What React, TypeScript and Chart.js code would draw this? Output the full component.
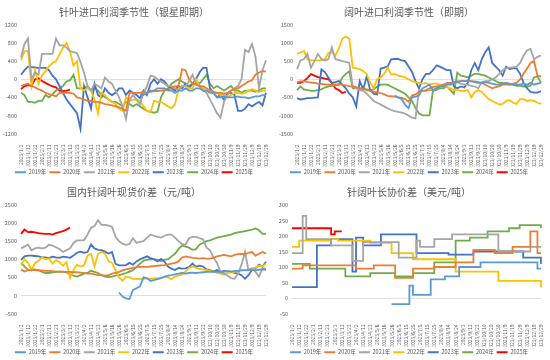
import React, { useEffect, useRef } from "react";
import { Chart, registerables } from "chart.js";

Chart.register(...registerables);

const FONT = '"Noto Sans CJK SC", "Noto Sans", sans-serif';
const TEXT = "#595959";

// x-axis tick labels (one every second category)
const xLabels = [
  "2023/1/2", "2023/1/12", "2023/1/22", "2023/2/1", "2023/2/11", "2023/2/21",
  "2023/3/3", "2023/3/13", "2023/3/23", "2023/4/2", "2023/4/13", "2023/4/23",
  "2023/5/6", "2023/5/16", "2023/5/26", "2023/6/5", "2023/6/15", "2023/6/25",
  "2023/7/5", "2023/7/15", "2023/7/25", "2023/8/4", "2023/8/14", "2023/8/24",
  "2023/9/3", "2023/9/13", "2023/9/23", "2023/10/10", "2023/10/20", "2023/10/30",
  "2023/11/9", "2023/11/19", "2023/11/29", "2023/12/9", "2023/12/19", "2023/12/29",
];

const seriesNames = ["2019年", "2020年", "2021年", "2022年", "2023年", "2024年", "2025年"];
const seriesColors = ["#5B9BD5", "#ED7D31", "#A5A5A5", "#FFC000", "#4472C4", "#70AD47", "#FF0000"];

// ---------- Chart 1: 针叶进口利润季节性（银星即期）
const c1Title = "针叶进口利润季节性（银星即期）";
const c1Ticks = [-1200, 1200, 400];
const c1Start2019 = 34;
const c1_2019 = [-350, -350, -300, -250, -250, -200, -200, -200, -250, -250, -300, -250, -250, -200, -250, -250, -200, -200, -250, -250, -300, -300, -400, -400, -380, -400, -400, -400, -380, -400, -400, -420, -400, -380, -380, -350, -350];
const c1_2020 = [-150, -120, -100, -150, -180, -220, -250, -300, -330, -350, -380, -300, -300, -300, -300, -320, -400, -420, -450, -480, -480, -500, -500, -520, -550, -560, -580, -600, -620, -650, -700, -300, -300, -300, -300, -280, -300, -280, -260, -260, -250, -240, -230, -200, -150, -150, 220, 200, 0, -100, -120, -150, -150, -200, -250, -280, -300, -300, -320, -300, -250, -220, -200, -150, -100, -50, -20, 100, 150, 180, 170];
const c1_2021 = [480, 780, 900, 0, 150, 100, 560, 560, 560, 560, 900, 750, 750, 700, 620, 600, 580, 380, 150, -150, -250, -100, -150, -200, 40, -50, -100, -250, -400, -600, -880, -450, -350, -450, -550, -300, -150, 80, 60, 0, -50, -100, -150, -150, -200, -250, -150, -150, -50, 100, -100, -150, -250, -300, -450, -600, -750, -850, -500, -350, -250, -200, -150, 0, 650, 600, 780, 500, -200, 200, 420];
const c1_2022 = [420, 620, 620, -150, 200, -100, 80, 180, 290, 360, 400, 550, 700, 800, 620, 300, 400, -200, -250, -200, -250, -450, -750, -300, -350, -450, -500, -550, -650, -700, -400, -480, -450, -450, -480, -600, -700, -730, -480, -500, -500, -550, -600, -640, -550, -220, -150, -150, -200, -200, 0, -150, -200, -250, -250, -300, -300, -350, -350, -400, -350, -300, -300, -320, -300, -250, -220, -250, -280, -250, -250];
const c1_2023 = [100, 200, 280, 270, 260, 250, 250, 250, 200, 80, 0, -150, -300, -450, -550, -650, -750, -1100, -150, -400, -650, -100, -350, -400, -200, -300, -350, -300, -200, -200, -350, -250, -300, -350, -420, -250, -350, -100, 0, -100, 0, -50, -150, -200, -250, -150, -200, -100, -200, -100, 0, 150, 250, 250, -200, -300, -400, -350, -450, -300, -300, -350, -700, -700, -650, -550, -600, -550, -500, -580, -300];
const c1_2024 = [-300, -350, -500, -500, -520, -480, -480, -350, -400, -330, -250, -200, -150, -50, -20, 100, -200, -200, -200, -150, -250, -200, -250, -350, -400, -450, -500, -500, -550, -600, -500, -550, -600, -550, -600, -650, -700, -720, -740, -720, -400, -250, -200, -100, -50, 0, -50, -100, -150, -100, -50, -100, 0, 100, -100, -200, -150, -200, -250, -200, -150, -250, -250, -300, -250, -250, -250, -280, -250, -200, -200];
const c1_2025 = [-220, -150, -130, -150, 0, 20, -40, -80, -120, -160, -180, -250, -260, -250, -230];

// ---------- Chart 2: 阔叶进口利润季节性（即期）
const c2Title = "阔叶进口利润季节性（即期）";
const c2Ticks = [-1500, 1500, 500];
const c2Start2019 = 28;
const c2_2019 = [-450, -500, -550, -700, -800, -500, -480, -450, -250, -200, -150, -300, -250, -200, -200, -150, -150, -100, -80, -50, -50, -50, -60, -80, -100, -100, -80, -100, -120, -150, -150, -120, -100, -120, -150, -150, -150, -120, -150, -100, -150, -120, -100];
const c2_2020 = [-80, -60, -50, -80, -90, -100, -120, -130, -140, -150, -150, -140, -140, -150, -170, -190, -200, -220, -250, -270, -300, -320, -340, -360, -380, -420, -460, -470, -480, -500, -510, -550, -620, -450, -420, -350, -320, -300, -250, -220, -200, -180, -150, -120, -100, -80, -60, -50, -50, -40, -50, -60, -80, -100, -150, -200, -250, -220, -200, -150, -150, -150, -120, -100, 0, 150, 300, 450, 500, 100, 80];
const c2_2021 = [280, 520, 560, 700, 320, 500, 700, 560, 520, 560, 880, 560, 530, 500, 480, 450, -200, -250, -300, -320, -400, -500, -600, -650, -700, -750, -800, -850, -880, -900, -920, -950, -1000, -1060, -1080, -300, -320, -320, -300, -300, -250, -200, -150, -100, -100, -100, -80, -120, -150, -150, -180, -200, -250, -80, -50, -50, 0, 50, 150, 250, 300, 320, 330, 350, 450, 650, 800, 840, 550, 620, 660];
const c2_2022 = [700, 740, 780, 550, 520, 520, 520, 520, 560, 720, 750, 650, 850, 1120, 1180, 1120, 320, 300, 280, 230, 140, -100, -250, 0, 50, 150, 320, 130, 150, 100, 80, 50, 0, -50, -80, -100, -120, -100, -150, -120, -120, -150, -180, -220, -250, -300, -300, -320, -320, -300, -500, -350, -300, -350, -450, -550, -600, -650, -700, -680, -600, -580, -650, -680, -550, -550, -600, -580, -600, -650, -680];
const c2_2023 = [-520, -560, -540, -520, -520, -510, -500, 270, 200, 50, -100, -80, -50, -150, -250, -400, -500, -750, -50, -280, 80, -300, -400, -420, 300, 320, 350, 550, 560, 560, 520, 500, 350, 200, -50, -250, 0, 150, 150, 250, 380, 350, 300, 250, 250, -200, -250, -200, -230, -100, 250, 450, 250, 550, 750, 880, 450, 350, 250, 100, 350, 280, 300, 300, 150, -100, -250, -350, -370, -370, -330];
const c2_2024 = [-300, -200, -280, -300, -320, -320, -300, -280, -230, -200, -180, -170, -150, 50, 150, 220, -250, -250, -250, -260, -280, -300, -280, -200, -150, -150, -150, -200, -250, -300, -350, -400, -500, -600, -800, -950, -1000, -1000, -1000, -320, -300, -250, -250, -200, -300, -400, 180, 100, 80, 50, 100, 150, 150, 120, 100, 50, 0, -50, -100, -100, -120, -150, -150, -180, -180, -200, -200, -180, 50, 80, -100];
const c2_2025 = [-100, -100, -50, 40, 140, 100, 60, 40, 20, 0, -100, -250, -300, -380, -350];

// ---------- Chart 3: 国内针阔叶现货价差（元/吨）
const c3Title = "国内针阔叶现货价差（元/吨）";
const c3Ticks = [-500, 2500, 500];
const c3Start2019 = 28;
const c3_2019 = [80, -30, -80, -100, 150, 200, 250, 500, 480, 400, 420, 450, 480, 520, 550, 560, 580, 600, 620, 600, 620, 630, 620, 630, 640, 650, 650, 660, 650, 660, 650, 680, 660, 680, 680, 690, 690, 700, 700, 700, 710, 720, 710];
const c3_2020 = [720, 660, 700, 700, 700, 690, 690, 680, 680, 670, 660, 660, 660, 650, 650, 640, 640, 630, 620, 600, 600, 580, 560, 560, 550, 560, 600, 620, 650, 690, 720, 740, 760, 780, 790, 790, 790, 800, 810, 820, 830, 840, 860, 880, 900, 940, 1050, 1080, 1060, 1040, 1030, 1020, 1030, 1020, 1020, 1040, 1080, 1100, 1120, 1100, 1080, 1120, 1140, 1150, 1140, 1180, 1200, 1100, 1150, 1200, 1150];
const c3_2021 = [1300, 1350, 1400, 1250, 1300, 1320, 1300, 1320, 1400, 1380, 1330, 1280, 1200, 1250, 1300, 1450, 1520, 1520, 1530, 1680, 1870, 1920, 2080, 1950, 1950, 1930, 1900, 1620, 1500, 1430, 1400, 1420, 1580, 1450, 1480, 1500, 1600, 1680, 1650, 1620, 1600, 1650, 1680, 1680, 1600, 1500, 1420, 1400, 1580, 1620, 1620, 1580, 1550, 1320, 1250, 1050, 900, 650, 600, 550, 480, 460, 600, 850, 1200, 700, 750, 650, 520, 750, 740];
const c3_2022 = [830, 1000, 900, 700, 900, 960, 1050, 1000, 1020, 880, 980, 920, 820, 920, 480, 700, 850, 800, 830, 1100, 1150, 800, 1150, 1200, 1150, 950, 900, 700, 500, 400, 520, 500, 460, 460, 450, 470, 460, 460, 470, 480, 480, 520, 500, 450, 520, 550, 580, 660, 760, 800, 760, 730, 720, 700, 680, 650, 620, 600, 580, 620, 640, 650, 680, 700, 700, 720, 750, 770, 820, 800, 880];
const c3_2023 = [980, 1080, 1100, 1100, 1090, 1080, 1050, 1050, 1030, 1070, 1050, 1040, 1070, 1060, 1040, 1100, 1180, 1210, 1180, 1200, 1410, 1300, 1260, 1250, 1210, 1160, 1200, 870, 830, 830, 840, 900, 850, 940, 1000, 1040, 1080, 1030, 1000, 940, 1010, 930, 800, 740, 700, 760, 740, 750, 780, 880, 790, 820, 800, 720, 700, 660, 700, 650, 680, 660, 660, 620, 600, 560, 460, 560, 700, 750, 850, 800, 930];
const c3_2024 = [900, 800, 700, 700, 720, 700, 650, 620, 620, 640, 650, 660, 650, 640, 580, 550, 520, 560, 600, 620, 680, 650, 620, 560, 520, 510, 520, 550, 560, 590, 620, 660, 700, 780, 880, 960, 980, 1000, 1000, 980, 950, 980, 1000, 1080, 1150, 1280, 1380, 1350, 1320, 1260, 1280, 1400, 1450, 1500, 1520, 1560, 1600, 1620, 1640, 1660, 1680, 1720, 1740, 1760, 1780, 1800, 1820, 1850, 1800, 1700, 1700];
const c3_2025 = [1700, 1820, 1750, 1760, 1740, 1720, 1710, 1700, 1700, 1680, 1720, 1750, 1780, 1820, 1880];

// ---------- Chart 4: 针阔叶长协价差（美元/吨）
const c4Title = "针阔叶长协价差（美元/吨）";
const c4Ticks = [-50, 300, 50];
const c4Start2019 = 28;
const c4_2019 = [-20, -20, -20, -20, -20, 40, 10, 10, 10, 10, 10, 60, 60, 60, 60, 70, 70, 70, 70, 100, 100, 100, 100, 100, 100, 115, 115, 115, 115, 115, 115, 115, 115, 115, 115, 115, 115, 115, 115, 115, 115, 95, 95];
const c4_2020 = [95, 95, 95, 105, 105, 105, 105, 105, 105, 105, 105, 105, 105, 105, 105, 105, 105, 105, 95, 95, 95, 95, 95, 105, 105, 105, 105, 105, 105, 65, 65, 65, 65, 65, 95, 95, 95, 95, 95, 95, 100, 100, 100, 100, 100, 100, 115, 115, 115, 115, 115, 155, 155, 155, 155, 155, 155, 145, 145, 145, 145, 145, 165, 165, 165, 165, 165, 215, 215, 145, 145];
const c4_2021 = [145, 145, 145, 265, 190, 190, 190, 190, 190, 190, 190, 170, 170, 170, 170, 170, 170, 120, 120, 120, 180, 180, 180, 180, 180, 180, 180, 180, 180, 180, 130, 130, 130, 130, 130, 185, 165, 165, 165, 165, 190, 190, 190, 190, 190, 205, 205, 205, 205, 205, 205, 205, 205, 205, 205, 205, 205, 205, 150, 150, 150, 150, 150, 150, 150, 150, 150, 165, 165, 165, 165];
const c4_2022 = [165, 165, 185, 185, 185, 185, 185, 185, 185, 185, 185, 190, 190, 185, 185, 185, 185, 185, 185, 185, 185, 185, 178, 178, 178, 178, 178, 178, 145, 145, 145, 145, 145, 145, 125, 125, 125, 125, 125, 125, 125, 125, 125, 125, 125, 125, 85, 85, 85, 85, 85, 85, 85, 85, 85, 85, 85, 85, 55, 55, 55, 55, 55, 55, 55, 55, 55, 55, 55, 55, 35];
const c4_2023 = [35, 35, 35, 35, 35, 35, 35, 170, 170, 170, 170, 190, 190, 190, 190, 190, 190, 85, 195, 195, 170, 170, 170, 170, 170, 205, 205, 205, 205, 205, 205, 205, 205, 205, 205, 145, 145, 145, 145, 145, 145, 145, 145, 145, 140, 140, 140, 140, 140, 140, 140, 150, 150, 150, 150, 150, 150, 150, 150, 150, 150, 150, 150, 150, 150, 130, 130, 130, 130, 130, 110];
const c4_2024 = [110, 110, 110, 110, 110, 95, 95, 95, 95, 95, 95, 95, 95, 95, 95, 70, 70, 70, 70, 70, 70, 70, 80, 80, 80, 80, 80, 80, 80, 70, 70, 70, 70, 70, 80, 80, 80, 80, 80, 80, 115, 115, 115, 115, 115, 115, 185, 185, 185, 185, 195, 195, 195, 195, 195, 215, 215, 215, 215, 215, 215, 225, 225, 225, 235, 235, 235, 235, 235, 235, 225];
const c4_2025 = [225, 225, 225, 225, 225, 225, 225, 225, 225, 225, 225, 205, 215, 215, 215];

// category axis: two categories per labelled tick
const categories: string[] = [];
xLabels.forEach((l, i) => {
  categories.push(l);
  if (i < xLabels.length - 1) categories.push("");
});

function withStart(start: number, values: number[]) {
  const out: (number | null)[] = [];
  for (let i = 0; i < start; i++) out.push(null);
  return out.concat(values);
}

type PanelProps = {
  title: string;
  series: (number | null)[][];
  ticks: number[];
  yWidth: number;
  stepped: boolean;
  left: number;
  top: number;
};

function Panel({ title, series, ticks, yWidth, stepped, left, top }: PanelProps) {
  const ref = useRef<HTMLCanvasElement>(null);
  useEffect(() => {
    const chart = new Chart(ref.current as HTMLCanvasElement, {
      type: "line",
      data: {
        labels: categories,
        datasets: series.map((data, i) => ({
          label: seriesNames[i],
          data,
          borderColor: seriesColors[i],
          backgroundColor: seriesColors[i],
          borderWidth: 1.8,
          pointRadius: 0,
          pointHoverRadius: 0,
          tension: 0,
          stepped: stepped,
          fill: false,
          spanGaps: false,
        })),
      },
      options: {
        responsive: false,
        animation: false,
        events: [],
        layout: { padding: { left: 0, right: 7, top: 0, bottom: 0 } },
        plugins: {
          tooltip: { enabled: false },
          title: {
            display: true,
            text: title,
            color: TEXT,
            font: { family: FONT, size: 10, weight: "normal" },
            padding: { top: 6, bottom: 7 },
          },
          legend: {
            display: true,
            position: "bottom",
            labels: {
              color: TEXT,
              font: { family: FONT, size: 5.5 },
              boxWidth: 11,
              boxHeight: 2,
              padding: 3,
              generateLabels: (c: any) =>
                (Chart.defaults.plugins.legend.labels as any)
                  .generateLabels(c)
                  .map((l: any) => ({ ...l, lineWidth: 0, fillStyle: l.strokeStyle })),
            },
          },
        },
        scales: {
          x: {
            type: "category",
            offset: false,
            grid: { display: false },
            border: { display: false },
            ticks: {
              autoSkip: false,
              maxRotation: 90,
              minRotation: 90,
              padding: 3,
              color: TEXT,
              font: { family: FONT, size: 5 },
              callback: (_v: any, idx: number) => (categories[idx] ? categories[idx] : null),
            },
            afterFit: (s: any) => {
              s.height = 33;
            },
          },
          y: {
            min: ticks[0],
            max: ticks[1],
            border: { display: false },
            grid: {
              drawTicks: false,
              lineWidth: 0.8,
              color: (ctx: any) => (ctx.tick && ctx.tick.value === 0 ? "#D9D9D9" : "rgba(0,0,0,0)"),
            },
            ticks: {
              stepSize: ticks[2],
              padding: 4,
              color: TEXT,
              font: { family: FONT, size: 5.5 },
              callback: (v: any) => String(v),
            },
            afterFit: (s: any) => {
              s.width = yWidth;
            },
          },
        },
      } as any,
    });
    return () => chart.destroy();
  }, []);
  return (
    <div style={{ position: "absolute", left, top, width: 275, height: 180, overflow: "hidden", background: "#fff" }}>
      <canvas ref={ref} width={275} height={185} style={{ display: "block" }} />
    </div>
  );
}

export default function App() {
  const s1 = [withStart(c1Start2019, c1_2019), c1_2020, c1_2021, c1_2022, c1_2023, c1_2024, c1_2025];
  const s2 = [withStart(c2Start2019, c2_2019), c2_2020, c2_2021, c2_2022, c2_2023, c2_2024, c2_2025];
  const s3 = [withStart(c3Start2019, c3_2019), c3_2020, c3_2021, c3_2022, c3_2023, c3_2024, c3_2025];
  const s4 = [withStart(c4Start2019, c4_2019), c4_2020, c4_2021, c4_2022, c4_2023, c4_2024, c4_2025];
  return (
    <div style={{ position: "fixed", left: 0, top: 0, width: 550, height: 360, background: "#fff" }}>
      <Panel title={c1Title} series={s1} ticks={c1Ticks} yWidth={21} stepped={false} left={0} top={0} />
      <Panel title={c2Title} series={s2} ticks={c2Ticks} yWidth={22} stepped={false} left={275} top={0} />
      <Panel title={c3Title} series={s3} ticks={c3Ticks} yWidth={21} stepped={false} left={0} top={180} />
      <Panel title={c4Title} series={s4} ticks={c4Ticks} yWidth={17} stepped={true} left={275} top={180} />
    </div>
  );
}
